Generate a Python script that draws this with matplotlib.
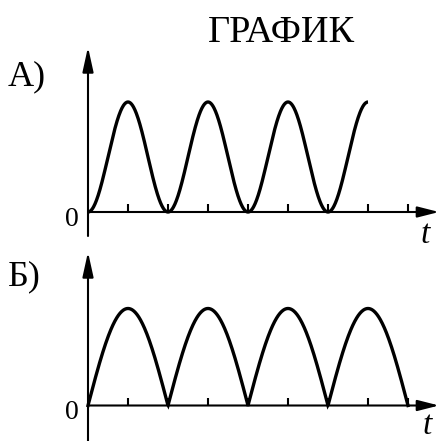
import numpy as np
import matplotlib
matplotlib.use("Agg")
import matplotlib.pyplot as plt

# ---- data ----
title = "ГРАФИК"
panel_labels = ["А)", "Б)"]
tick_positions = [1, 2, 3, 4, 5, 6, 7, 8]
t_end_a = 7.0          # graph A ends at a maximum
t_end_b = 8.0          # graph B ends at a zero
amp_a = 1.0
amp_b = 1.0
zero_label = "0"
axis_label = "t"

W, H = 439, 441
fig = plt.figure(figsize=(W / 100, H / 100), dpi=100)
serif = ["Liberation Serif", "DejaVu Serif"]

x0_px = 88
xunit = 40.0
xlim = (-x0_px / xunit, (W - x0_px) / xunit)

# panel A: rows 0..228, baseline row 212, amplitude 110 px
split = 228
axA = fig.add_axes([0, (H - split) / H, 1, split / H])
baseA, uA = 212, 110.0
axA.set_xlim(*xlim)
axA.set_ylim((baseA - split) / uA, baseA / uA)

# panel B: rows 228..441, baseline row 405.5, amplitude 97 px
axB = fig.add_axes([0, 0, 1, (H - split) / H])
baseB, uB = 405.5, 97.0
axB.set_xlim(*xlim)
axB.set_ylim((baseB - H) / uB, (baseB - split) / uB)

lw_curve = 2.4
lw_axis = 1.5

def draw_axes(ax, base, u, ybottom_row, ytop_row, xtip_px):
    ax.axis("off")
    ybot = (base - ybottom_row) / u
    ytop = (base - ytop_row) / u
    ax.annotate("", xy=(0, ytop), xytext=(0, ybot), xycoords="data",
                arrowprops=dict(arrowstyle="-|>,head_length=1.5,head_width=0.33",
                                mutation_scale=10, lw=lw_axis, color="black",
                                shrinkA=0, shrinkB=0),
                annotation_clip=False)
    xtip = (xtip_px - x0_px) / xunit
    ax.annotate("", xy=(xtip, 0), xytext=(0, 0), xycoords="data",
                arrowprops=dict(arrowstyle="-|>,head_length=1.3,head_width=0.33",
                                mutation_scale=10, lw=lw_axis, color="black",
                                shrinkA=0, shrinkB=0),
                annotation_clip=False)
    ax.vlines(tick_positions, 0, 8 / u, color="black", lw=lw_axis, clip_on=False)

draw_axes(axA, baseA, uA, 236, 47, 439)
draw_axes(axB, baseB, uB, 441, 252, 439)

tA = np.linspace(0, t_end_a, 800)
yA = amp_a * np.sin(np.pi * tA / 2) ** 2
axA.plot(tA, yA, color="black", lw=lw_curve, solid_capstyle="butt", clip_on=False)

tB = np.linspace(0, t_end_b, 800)
yB = amp_b * np.abs(np.sin(np.pi * tB / 2))
axB.plot(tB, yB, color="black", lw=lw_curve, solid_joinstyle="miter", clip_on=False)

# texts
axA.text((281 - x0_px) / xunit, (baseA - 42) / uA, title, family=serif,
         fontsize=27.5, ha="center", va="baseline")
axA.text((8 - x0_px) / xunit, (baseA - 85) / uA, panel_labels[0], family=serif,
         fontsize=26, ha="left", va="baseline")
axB.text((8 - x0_px) / xunit, (baseB - 285) / uB, panel_labels[1], family=serif,
         fontsize=26, ha="left", va="baseline")
axA.text((72 - x0_px) / xunit, (baseA - 226) / uA, zero_label, family=serif,
         fontsize=20, ha="center", va="baseline")
axB.text((72 - x0_px) / xunit, (baseB - 419) / uB, zero_label, family=serif,
         fontsize=20, ha="center", va="baseline")
axA.text((425 - x0_px) / xunit, (baseA - 243) / uA, axis_label, family=serif,
         style="italic", fontsize=24, ha="center", va="baseline")
axB.text((427 - x0_px) / xunit, (baseB - 434) / uB, axis_label, family=serif,
         style="italic", fontsize=24, ha="center", va="baseline")

fig.savefig("out.png", dpi=100, facecolor="white")
